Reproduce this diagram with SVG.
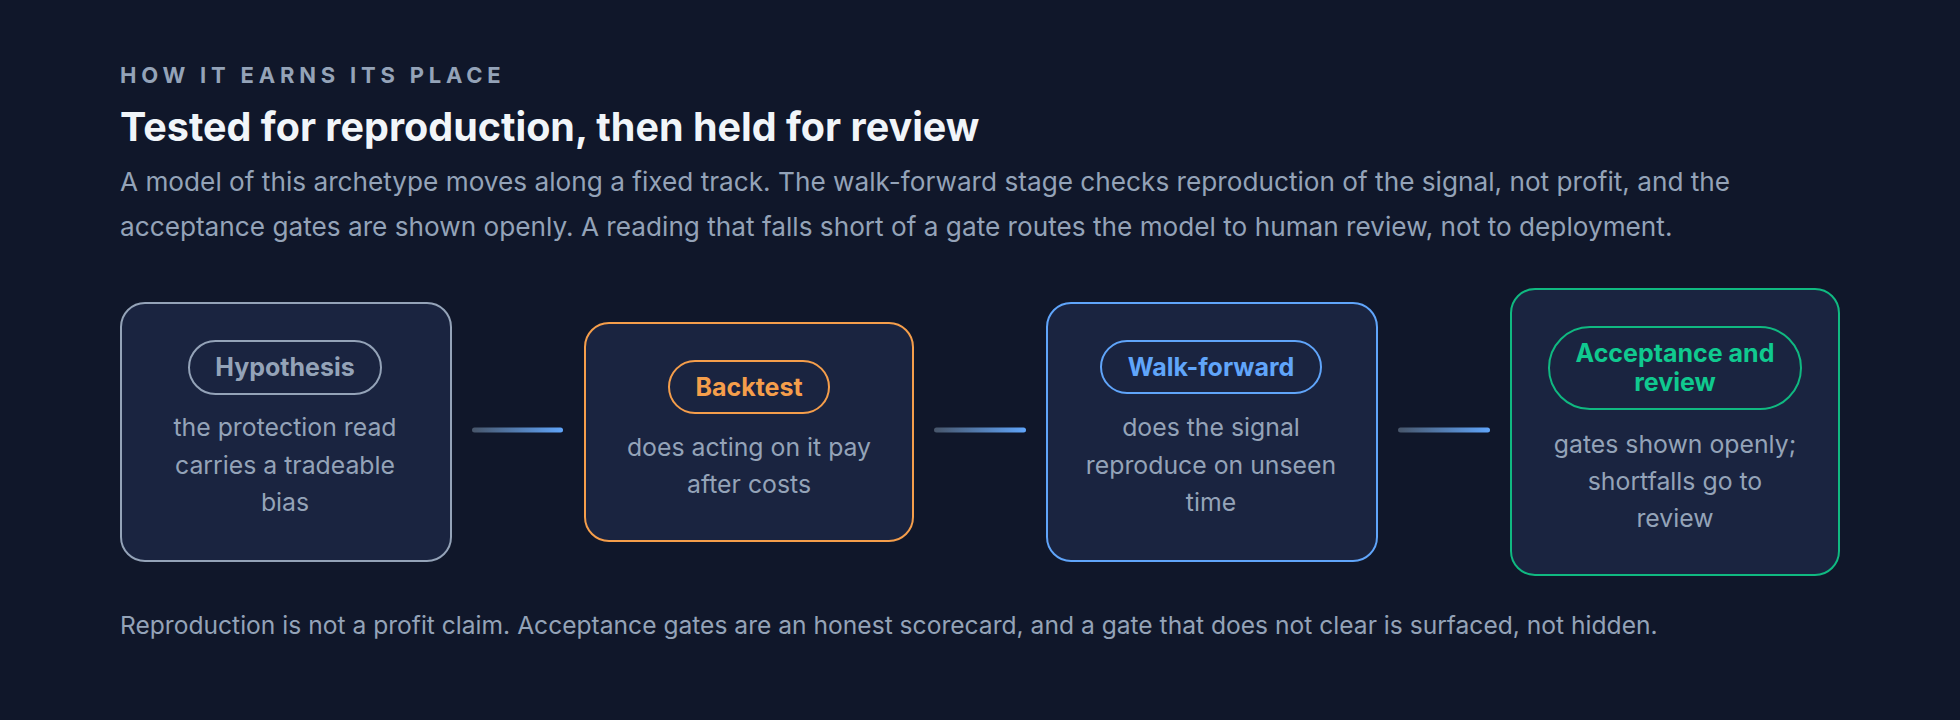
<svg xmlns="http://www.w3.org/2000/svg" width="1960" height="720" viewBox="0 0 1960 720">
<defs>
<linearGradient id="cg" x1="0" x2="1" y1="0" y2="0"><stop offset="0" stop-color="#475569"/><stop offset="1" stop-color="#60a5fa"/></linearGradient>
<style>
text{font-family:Inter,"Liberation Sans",sans-serif}
.box{fill:#1a2440;stroke-width:2}
.pill{fill:none;stroke-width:2}
.pt{font-size:25px;font-weight:700;text-anchor:middle}
.d{font-size:24.8px;fill:#94a3b8;text-anchor:middle}
.c{fill:url(#cg)}
</style>
</defs>
<rect width="1960" height="720" fill="#10172a"/>
<text x="120" y="83" font-size="22" font-weight="700" fill="#94a3b8" letter-spacing="4.8">HOW IT EARNS ITS PLACE</text>
<text x="120" y="141" font-size="39.5" font-weight="700" fill="#f1f5f9">Tested for reproduction, then held for review</text>
<text x="120" y="191" font-size="26.2" fill="#94a3b8">A model of this archetype moves along a fixed track. The walk-forward stage checks reproduction of the signal, not profit, and the</text>
<text x="120" y="236" font-size="26.2" fill="#94a3b8">acceptance gates are shown openly. A reading that falls short of a gate routes the model to human review, not to deployment.</text>
<g id="connectors">
<rect class="c" x="472" y="427.5" width="91" height="5" rx="2.5"/>
<rect class="c" x="934" y="427.5" width="92" height="5" rx="2.5"/>
<rect class="c" x="1398" y="427.5" width="92" height="5" rx="2.5"/>
</g>
<g id="n1">
<rect class="box" x="121" y="303" width="330" height="258" rx="24" stroke="#94a3b8"/>
<rect class="pill" x="189" y="341" width="192" height="53" rx="26.5" stroke="#94a3b8"/>
<text class="pt" x="285" y="376" fill="#94a3b8">Hypothesis</text>
<text class="d" x="285" y="436">the protection read</text>
<text class="d" x="285" y="474">carries a tradeable</text>
<text class="d" x="285" y="511">bias</text>
</g>
<g id="n2">
<rect class="box" x="585" y="323" width="328" height="218" rx="24" stroke="#f59e4b"/>
<rect class="pill" x="669" y="361" width="160" height="52" rx="26" stroke="#f59e4b"/>
<text class="pt" x="749" y="396" fill="#f59e4b">Backtest</text>
<text class="d" x="749" y="456">does acting on it pay</text>
<text class="d" x="749" y="493">after costs</text>
</g>
<g id="n3">
<rect class="box" x="1047" y="303" width="330" height="258" rx="24" stroke="#60a5fa"/>
<rect class="pill" x="1101" y="341" width="220" height="52" rx="26" stroke="#60a5fa"/>
<text class="pt" x="1211" y="376" fill="#60a5fa">Walk-forward</text>
<text class="d" x="1211" y="436">does the signal</text>
<text class="d" x="1211" y="474">reproduce on unseen</text>
<text class="d" x="1211" y="511">time</text>
</g>
<g id="n4">
<rect class="box" x="1511" y="289" width="328" height="286" rx="24" stroke="#10b981"/>
<rect class="pill" x="1549" y="327" width="252" height="82" rx="41" stroke="#10b981"/>
<text class="pt" x="1675" y="362" fill="#10c98f">Acceptance and</text>
<text class="pt" x="1675" y="391" fill="#10c98f">review</text>
<text class="d" x="1675" y="453">gates shown openly;</text>
<text class="d" x="1675" y="490">shortfalls go to</text>
<text class="d" x="1675" y="527">review</text>
</g>
<text x="120" y="634" font-size="24.6" fill="#94a3b8">Reproduction is not a profit claim. Acceptance gates are an honest scorecard, and a gate that does not clear is surfaced, not hidden.</text>
</svg>
